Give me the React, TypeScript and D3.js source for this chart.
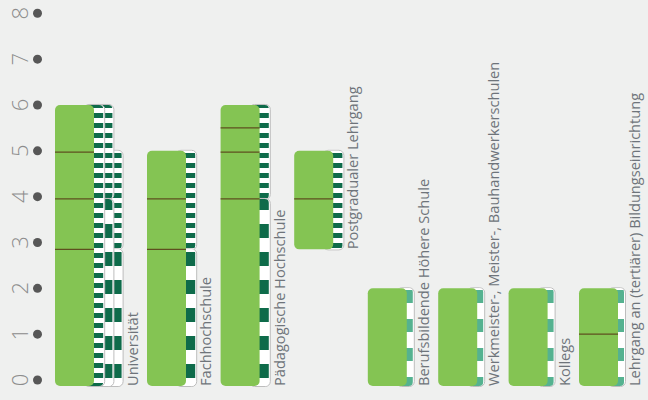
import React from 'react';
import * as d3 from 'd3';

const yTicks = [0, 1, 2, 3, 4, 5, 6, 7, 8];
const categories = [
  'Universität',
  'Fachhochschule',
  'Pädagogische Hochschule',
  'Postgradualer Lehrgang',
  'Berufsbildende Höhere Schule',
  'Werkmeister-, Meister-, Bauhandwerkerschulen',
  'Kollegs',
  'Lehrgang an (tertiärer) Bildungseinrichtung',
];
const barStart = [0, 0, 0, 2.85, 0, 0, 0, 0];
const barEnd = [6, 5, 6, 5, 2, 2, 2, 2];
const barLines = [[2.85, 3.95, 4.97], [2.85, 3.95], [3.95, 4.97, 5.5], [3.95], [], [], [], [1]];
type Seg = [number, number, string];
const stripColumns: Seg[][][] = [
  [[[0, 6, 'fine']], [[0, 3.95, 'coarse'], [3.95, 6, 'fine']], [[0, 2.85, 'coarse'], [2.85, 5, 'fine']]],
  [[[0, 2.85, 'coarse'], [2.85, 5, 'fine']]],
  [[[0, 3.95, 'coarse'], [3.95, 6, 'fine']]],
  [[[2.85, 5, 'fine']]],
  [[[0, 2, 'teal']]],
  [[[0, 2, 'teal']]],
  [[[0, 2, 'teal']]],
  [[[0, 2, 'teal']]],
];

const W = 648;
const H = 400;
const BG = '#eff0ef';
const GREEN = '#84c453';
const DARK = '#0e6b4a';
const TEAL = '#55b290';
const BAR_W = 39;
const GAP = 25.4;
const X0 = 55;
const BOTTOM_EXT = 6;

const colWidth = (kind: string) => (kind === 'teal' ? 6 : 9.2);

export default function App() {
  const y = d3.scaleLinear().domain([0, 8]).range([380, 13.3]);

  const groups: { x: number; cols: { left: number; right: number }[]; right: number }[] = [];
  let cursor = X0;
  categories.forEach((_, i) => {
    const cols: { left: number; right: number }[] = [];
    let cx = cursor + BAR_W;
    stripColumns[i].forEach((col) => {
      const w = colWidth(col[0][2]);
      cols.push({ left: cx, right: cx + w });
      cx += w;
    });
    groups.push({ x: cursor, cols, right: cx });
    cursor = cx + GAP;
  });

  const yb = (v: number) => (v === 0 ? y(0) + BOTTOM_EXT : y(v));

  return (
    <svg width={W} height={H} style={{ position: 'absolute', left: 0, top: 0, background: BG }}>
      <defs>
        <pattern id="fine" patternUnits="userSpaceOnUse" width={20} height={10}>
          <rect width={20} height={10} fill="#fff" />
          <rect y={3} width={20} height={5} fill={DARK} />
        </pattern>
        <pattern id="coarse" patternUnits="userSpaceOnUse" width={20} height={28}>
          <rect width={20} height={28} fill="#fff" />
          <rect y={0} width={20} height={14} fill={DARK} />
        </pattern>
        <pattern id="teal" patternUnits="userSpaceOnUse" width={20} height={29}>
          <rect width={20} height={29} fill="#fff" />
          <rect y={0} width={20} height={13} fill={TEAL} />
        </pattern>
      </defs>
      <rect width={W} height={H} fill={BG} />

      {yTicks.map((t) => (
        <g key={t}>
          <text
            transform={`translate(28,${y(t)}) rotate(-90)`}
            textAnchor="middle"
            fontFamily="'Open Sans', sans-serif"
            fontWeight={300}
            fontSize={22}
            fill="#8c8c8c"
          >
            {t}
          </text>
          <circle cx={37.5} cy={y(t)} r={4.5} fill="#575757" />
        </g>
      ))}

      {categories.map((c, i) => {
        const g = groups[i];
        const cols = stripColumns[i];
        return (
          <g key={c}>
            {cols
              .map((col, k) => ({ col, k }))
              .reverse()
              .map(({ col, k }) => (
                <g key={k}>
                  {col
                    .slice()
                    .reverse()
                    .map((s, j) => {
                      const top = y(s[1]);
                      const bot = yb(s[0]);
                      const left = g.cols[k].left - 10;
                      return (
                        <g key={j}>
                          <rect
                            x={left}
                            y={top - 0.5}
                            width={g.cols[k].right + 1.5 - left}
                            height={bot - top + 1}
                            rx={5}
                            fill="#fff"
                            stroke="#bdbdbd"
                            strokeWidth={1}
                          />
                          <rect
                            x={left}
                            y={top}
                            width={g.cols[k].right - left}
                            height={bot - top}
                            rx={4}
                            fill={`url(#${s[2]})`}
                          />
                        </g>
                      );
                    })}
                </g>
              ))}
            <rect
              x={g.x}
              y={y(barEnd[i])}
              width={BAR_W}
              height={yb(barStart[i]) - y(barEnd[i])}
              rx={5}
              fill={GREEN}
            />
            {barLines[i].map((v) => (
              <line
                key={v}
                x1={g.x}
                x2={g.x + BAR_W}
                y1={y(v)}
                y2={y(v)}
                stroke="#5e4f1f"
                strokeWidth={1.3}
              />
            ))}
            <text
              transform={`translate(${g.right + 16},${yb(barStart[i])}) rotate(-90)`}
              fontFamily="'Open Sans', sans-serif"
              fontSize={14.6}
              fill="#6e747a"
            >
              {c}
            </text>
          </g>
        );
      })}
    </svg>
  );
}
